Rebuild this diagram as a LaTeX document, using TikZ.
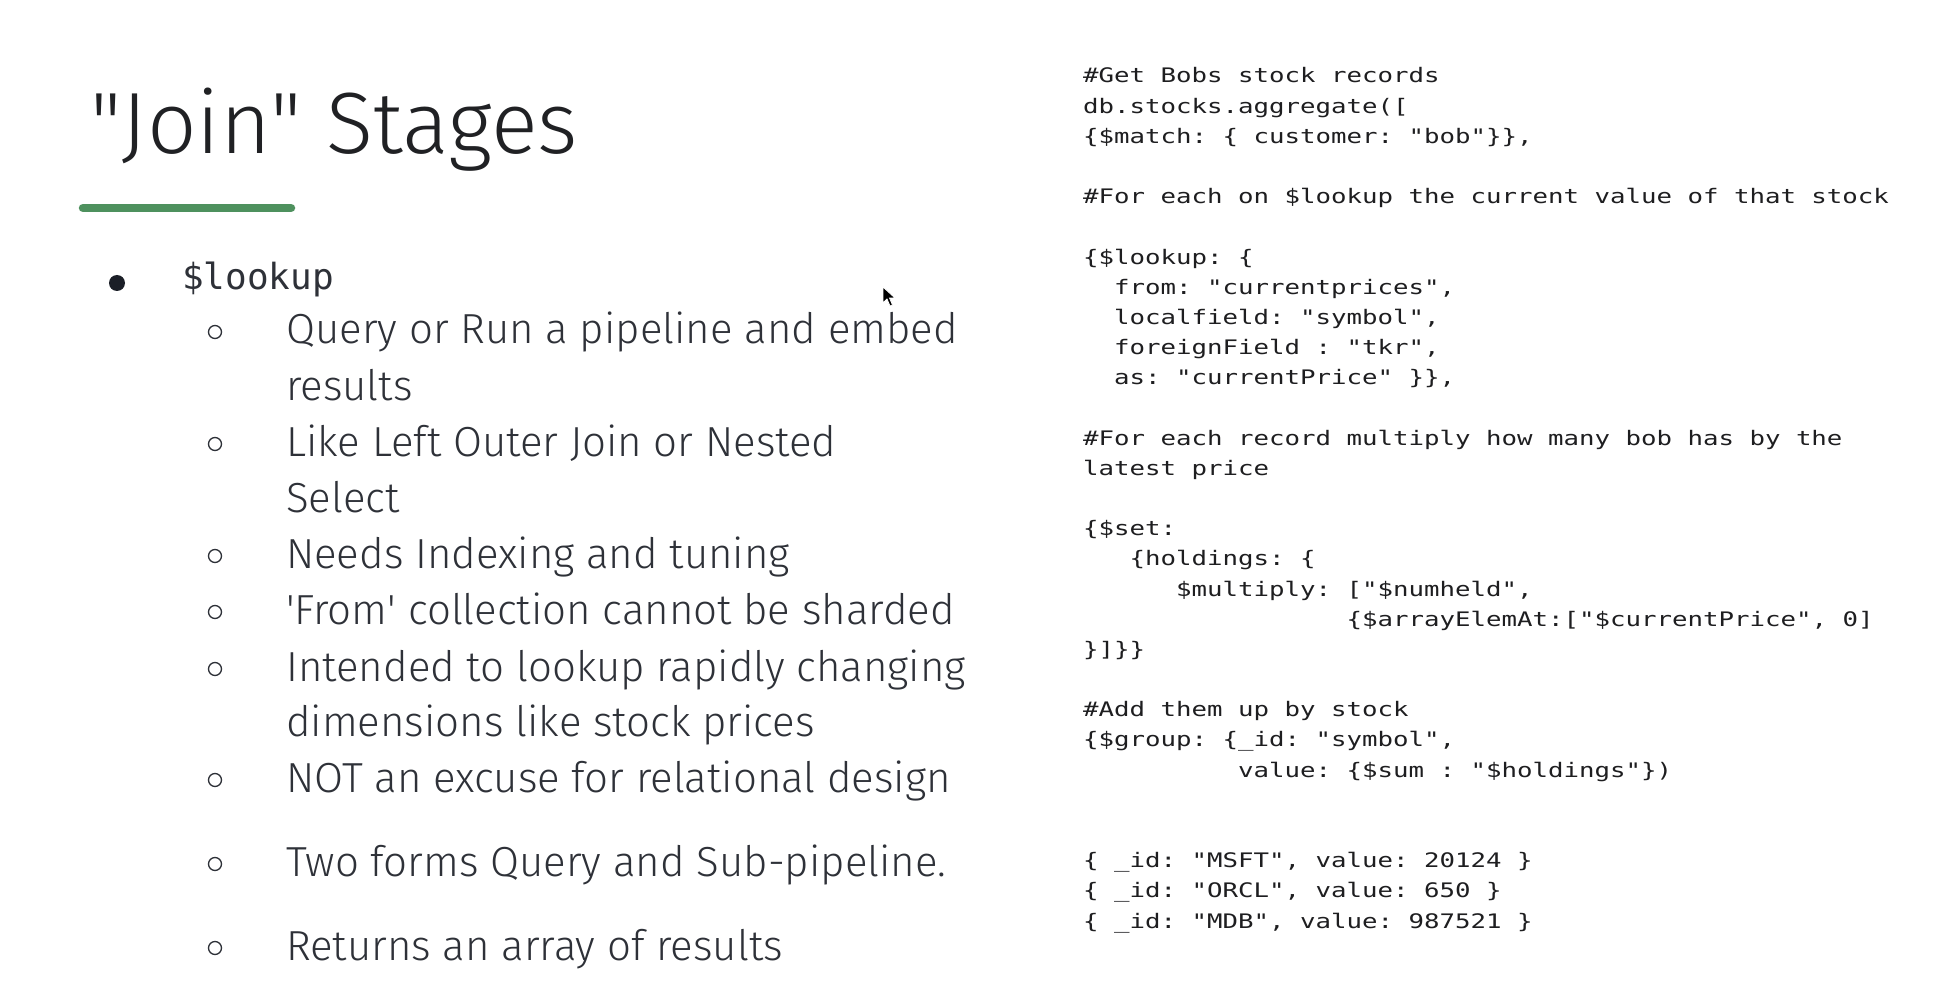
\documentclass[tikz,border=0pt]{standalone}
\usepackage{fontspec}
\setmainfont{Fira Sans}[UprightFont=* Light]
\newfontfamily\codefont{DejaVu Sans Mono}[FakeStretch=1.287]
\newfontfamily\keyfont{DejaVu Sans Mono}

\definecolor{titlegray}{RGB}{32,33,36}
\definecolor{bodygray}{RGB}{46,49,56}
\definecolor{dotgray}{RGB}{27,31,39}
\definecolor{codegray}{RGB}{30,30,32}
\definecolor{bargreen}{RGB}{78,145,94}

\begin{document}
\begin{tikzpicture}[
    x=1pt, y=-1pt,
    title/.style={anchor=base west, inner sep=0pt, text=titlegray,
        font=\fontsize{87}{90}\selectfont},
    item/.style={anchor=base west, inner sep=0pt, text=bodygray,
        font=\fontsize{42}{50}\selectfont},
    key/.style={anchor=base west, inner sep=0pt, text=bodygray,
        font=\keyfont\fontsize{36}{40}\selectfont},
    code/.style={anchor=base west, inner sep=0pt, text=codegray,
        font=\codefont\fontsize{20}{24}\selectfont\frenchspacing},
    ring/.style={circle, draw=bodygray, line width=1.3pt,
        minimum size=13pt, inner sep=0pt},
    dot/.style={circle, fill=dotgray, minimum size=16pt, inner sep=0pt}
]
\useasboundingbox[fill=white] (0,0) rectangle (1952,1008);

% heading
\node[title] (title) at (90,154) {\textquotedbl Join\textquotedbl{} Stages};
\draw[bargreen, line width=8.5pt, line cap=round] (83,208) -- (291,208);

% left list
\node[dot] (d1) at (117,283) {};
\node[key] (lookup) at (182,290) {\$lookup};

\node[ring] (r1) at (215,332) {};
\node[item] (i1) at (286,344) {Query or Run a pipeline and embed};
\node[item] (i1b) at (286,400) {results};
\node[ring] (r2) at (215,444) {};
\node[item] (i2) at (286,456) {Like Left Outer Join or Nested};
\node[item] (i2b) at (286,512) {Select};
\node[ring] (r3) at (215,556) {};
\node[item] (i3) at (286,568) {Needs Indexing and tuning};
\node[ring] (r4) at (215,612) {};
\node[item] (i4) at (286,624) {\textquotesingle From\textquotesingle{} collection cannot be sharded};
\node[ring] (r5) at (215,669) {};
\node[item] (i5) at (286,681) {Intended to lookup rapidly changing};
\node[item] (i5b) at (286,736) {dimensions like stock prices};
\node[ring] (r6) at (215,780) {};
\node[item] (i6) at (286,792) {NOT an excuse for relational design};
\node[ring] (r7) at (215,864) {};
\node[item] (i7) at (286,876) {Two forms Query and Sub-pipeline.};
\node[ring] (r8) at (215,948) {};
\node[item] (i8) at (286,960) {Returns an array of results};

% mouse pointer
\filldraw[fill=black, draw=white, line width=0.8pt]
    (883,287) -- (883,303) -- (887,299) -- (890,306) -- (892.5,305)
    -- (889.5,298) -- (895,298) -- cycle;

% code on the right
\foreach \row/\codeline in {
    1/{\#Get Bobs stock records},
    2/{db.stocks.aggregate([},
    3/{\{\$match: \{ customer: "bob"\}\},},
    5/{\#For each on \$lookup the current value of that stock},
    7/{\{\$lookup: \{},
    8/{\ \ from: "currentprices",},
    9/{\ \ localfield: "symbol",},
    10/{\ \ foreignField : "tkr",},
    11/{\ \ as: "currentPrice" \}\},},
    13/{\#For each record multiply how many bob has by the},
    14/{latest price},
    16/{\{\$set:},
    17/{\ \ \ \{holdings: \{},
    18/{\ \ \ \ \ \ \$multiply: ["\$numheld",},
    19/{\ \ \ \ \ \ \ \ \ \ \ \ \ \ \ \ \ \{\$arrayElemAt:["\$currentPrice", 0]},
    20/{\}]\}\}},
    22/{\#Add them up by stock},
    23/{\{\$group: \{\_id: "symbol",},
    24/{\ \ \ \ \ \ \ \ \ \ value: \{\$sum : "\$holdings"\})},
    27/{\{ \_id: "MSFT", value: 20124 \}},
    28/{\{ \_id: "ORCL", value: 650 \}},
    29/{\{ \_id: "MDB", value: 987521 \}}}
  \node[code] (c\row) at (1083,83+30.18*\row-30.18) {\codeline};
\end{tikzpicture}
\end{document}
